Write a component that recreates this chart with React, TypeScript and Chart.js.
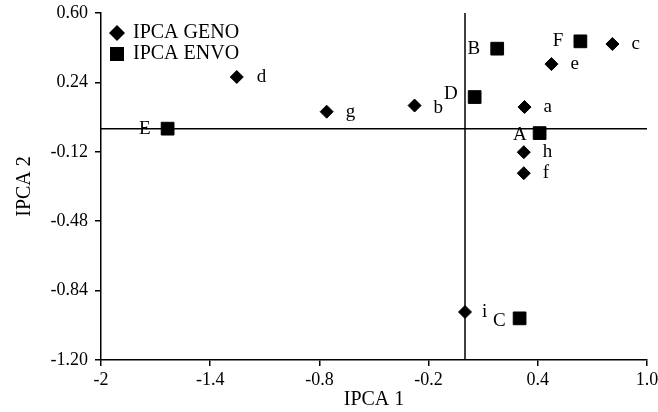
import React, { useEffect, useRef } from 'react';
import { Chart, registerables } from 'chart.js';

Chart.register(...registerables);

// ---- data ----
const genoLabels = ['a', 'b', 'c', 'd', 'e', 'f', 'g', 'h', 'i'];
const genoX = [0.327, -0.277, 0.81, -1.254, 0.475, 0.323, -0.76, 0.323, 0.0];
const genoY = [0.112, 0.12, 0.439, 0.268, 0.335, -0.231, 0.088, -0.122, -0.951];

const envoLabels = ['A', 'B', 'C', 'D', 'E', 'F'];
const envoX = [0.41, 0.177, 0.3, 0.053, -1.634, 0.634];
const envoY = [-0.023, 0.415, -0.984, 0.164, 0.0, 0.453];

const seriesNames = ['IPCA GENO', 'IPCA ENVO'];

const xTickValues = [-2, -1.4, -0.8, -0.2, 0.4, 1.0];
const xTickLabels = ['-2', '-1.4', '-0.8', '-0.2', '0.4', '1.0'];
const yTickValues = [0.6, 0.24, -0.12, -0.48, -0.84, -1.2];
const yTickLabels = ['0.60', '0.24', '-0.12', '-0.48', '-0.84', '-1.20'];

const xTitle = 'IPCA 1';
const yTitle = 'IPCA 2';

// small per-label nudges (pixels) for label placement
const labelNudge: Record<string, [number, number]> = {
  i: [-2, 0],
  D: [0, -3],
  A: [4, 2],
  C: [3, 3],
  b: [0, 2],
  d: [1, 0],
};

const FONT = "'Liberation Serif', 'Times New Roman', serif";

const overlayPlugin = {
  id: 'overlay',
  beforeDatasetsDraw(chart: any) {
    const { ctx, chartArea, scales } = chart;
    const x0 = scales.x.getPixelForValue(0);
    const y0 = scales.y.getPixelForValue(0);
    ctx.save();
    ctx.strokeStyle = '#000';
    ctx.lineWidth = 1.5;
    ctx.beginPath();
    ctx.moveTo(x0, chartArea.top);
    ctx.lineTo(x0, chartArea.bottom);
    ctx.stroke();
    ctx.beginPath();
    ctx.moveTo(chartArea.left, y0);
    ctx.lineTo(chartArea.right, y0);
    ctx.stroke();
    ctx.restore();
  },
  afterDatasetsDraw(chart: any) {
    const { ctx, chartArea } = chart;
    ctx.save();
    ctx.fillStyle = '#000';
    ctx.font = `19px ${FONT}`;
    ctx.textBaseline = 'middle';
    const sets: [string[], number, CanvasTextAlign][] = [
      [genoLabels, 19, 'left'],
      [envoLabels, -17, 'right'],
    ];
    sets.forEach(([labels, dx, align], di) => {
      const meta = chart.getDatasetMeta(di);
      ctx.textAlign = align;
      meta.data.forEach((pt: any, j: number) => {
        const lab = labels[j];
        const n = labelNudge[lab] || [0, 0];
        ctx.fillText(lab, pt.x + dx + n[0], pt.y + n[1]);
      });
    });

    // legend
    const lx = chartArea.left + 16;
    const ly1 = chartArea.top + 20;
    const ly2 = chartArea.top + 41;
    ctx.beginPath();
    ctx.moveTo(lx, ly1 - 8);
    ctx.lineTo(lx + 8, ly1);
    ctx.lineTo(lx, ly1 + 8);
    ctx.lineTo(lx - 8, ly1);
    ctx.closePath();
    ctx.fill();
    ctx.fillRect(lx - 7, ly2 - 7, 14, 14);
    ctx.font = `20px ${FONT}`;
    ctx.textAlign = 'left';
    ctx.fillText(seriesNames[0], lx + 16, ly1);
    ctx.fillText(seriesNames[1], lx + 16, ly2);
    ctx.restore();
  },
};

export default function App() {
  const ref = useRef<HTMLCanvasElement | null>(null);

  useEffect(() => {
    if (!ref.current) return;
    const genoData = genoX.map((x, i) => ({ x, y: genoY[i] }));
    const envoData = envoX.map((x, i) => ({ x, y: envoY[i] }));
    const tickFont = { family: FONT, size: 18 };
    const titleFont = { family: FONT, size: 20 };

    const chart = new Chart(ref.current, {
      type: 'scatter',
      data: {
        datasets: [
          {
            label: seriesNames[0],
            data: genoData,
            pointStyle: 'rectRot',
            pointRadius: 6.5,
            backgroundColor: '#000',
            borderColor: '#000',
            borderWidth: 1,
          },
          {
            label: seriesNames[1],
            data: envoData,
            pointStyle: 'rect',
            pointRadius: 9,
            backgroundColor: '#000',
            borderColor: '#000',
            borderWidth: 1,
          },
        ],
      },
      options: {
        responsive: false,
        animation: false,
        layout: { padding: { top: 13, right: 11, left: 0, bottom: 0 } },
        plugins: {
          legend: { display: false },
          tooltip: { enabled: false },
        },
        scales: {
          x: {
            type: 'linear',
            min: -2,
            max: 1,
            afterBuildTicks: (s: any) => {
              s.ticks = xTickValues.map((v) => ({ value: v }));
            },
            afterFit: (s: any) => {
              s.height = 52;
              s.paddingLeft = 0;
              s.paddingRight = 0;
            },
            ticks: {
              autoSkip: false,
              maxRotation: 0,
              color: '#000',
              font: tickFont,
              padding: 3,
              callback: (_v: any, i: number) => xTickLabels[i],
            },
            grid: { drawOnChartArea: false, color: '#000', tickLength: 6, lineWidth: 1.5 },
            border: { display: true, color: '#000', width: 1.5 },
            title: { display: true, text: xTitle, color: '#000', font: titleFont, padding: { top: 0, bottom: 0 } },
          },
          y: {
            type: 'linear',
            min: -1.2,
            max: 0.6,
            afterBuildTicks: (s: any) => {
              s.ticks = yTickValues.map((v) => ({ value: v }));
            },
            afterFit: (s: any) => {
              s.width = 101;
              s.paddingTop = 0;
              s.paddingBottom = 0;
            },
            ticks: {
              autoSkip: false,
              color: '#000',
              font: tickFont,
              padding: 7,
              callback: (_v: any, i: number) => yTickLabels[i],
            },
            grid: { drawOnChartArea: false, color: '#000', tickLength: 6, lineWidth: 1.5 },
            border: { display: true, color: '#000', width: 1.5 },
            title: { display: true, text: yTitle, color: '#000', font: titleFont, padding: { top: 13, bottom: 0 } },
          },
        },
      },
      plugins: [overlayPlugin],
    });
    return () => chart.destroy();
  }, []);

  return (
    <div style={{ position: 'fixed', left: 0, top: 0, width: 658, height: 412, background: '#fff' }}>
      <canvas ref={ref} width={658} height={412} style={{ display: 'block' }} />
    </div>
  );
}
